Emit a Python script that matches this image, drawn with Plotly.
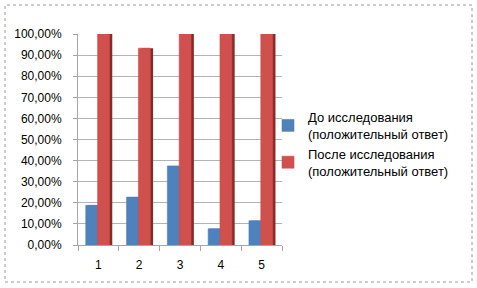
import plotly.graph_objects as go

# Survey results, share of positive answers per question
categories = ["1", "2", "3", "4", "5"]
before_values = [0.188, 0.227, 0.375, 0.077, 0.115]
after_values = [1.0, 0.933, 1.0, 1.0, 1.0]
series_names = [
    "До исследования<br>(положительный ответ)",
    "После исследования<br>(положительный ответ)",
]
y_ticks = [i / 10 for i in range(11)]

W, H = 477, 288
ML, MR, MT, MB = 78, 195, 34, 43

blue, blue_side = "#4F81BD", "#2F5485"
red, red_side = "#D0504D", "#8A2A28"

fig = go.Figure()

# darker side faces drawn behind the fronts for a bit of depth
for vals, col, off in [(before_values, blue_side, -0.26), (after_values, red_side, 0.05)]:
    fig.add_trace(go.Bar(
        x=categories, y=vals, offset=off, width=0.29,
        marker=dict(color=col, line=dict(width=0)),
        showlegend=False, hoverinfo="skip",
    ))

for vals, col, off, name in [
    (before_values, blue, -0.31, series_names[0]),
    (after_values, red, -0.02, series_names[1]),
]:
    fig.add_trace(go.Bar(
        x=categories, y=vals, offset=off, width=0.29, name=name,
        marker=dict(color=col, line=dict(width=0.6, color=col)),
    ))

pw = W - ML - MR
ph = H - MT - MB


def px_x(v):
    return (v - ML) / pw


def px_y(v):
    return (H - MB - v) / ph


fig.update_layout(
    width=W, height=H,
    margin=dict(l=ML, r=MR, t=MT, b=MB),
    barmode="overlay",
    separators=", ",
    paper_bgcolor="white",
    plot_bgcolor="white",
    font=dict(family="Liberation Sans", size=12, color="#000000"),
    showlegend=True,
    legend=dict(
        x=px_x(268), y=px_y(102), xanchor="left", yanchor="top",
        font=dict(size=13), tracegroupgap=8, itemwidth=30,
        bgcolor="rgba(0,0,0,0)",
    ),
    xaxis=dict(
        type="category", showgrid=False, showline=True, linecolor="#A6A6A6",
        ticks="outside", tickson="boundaries", ticklen=5, tickcolor="#A6A6A6",
        tickfont=dict(size=12), range=[-0.5, 4.5], ticklabelstandoff=9,
    ),
    yaxis=dict(
        range=[0, 1], tickvals=y_ticks, tickformat=".2%",
        showgrid=True, gridcolor="#B4B4B4", gridwidth=1,
        showline=True, linecolor="#A6A6A6", ticks="outside", ticklen=4,
        tickcolor="#A6A6A6", tickfont=dict(size=12), zeroline=False,
        ticklabelstandoff=9,
    ),
    shapes=[dict(
        type="rect", xref="paper", yref="paper",
        x0=px_x(5), x1=px_x(472), y0=px_y(282), y1=px_y(5),
        line=dict(color="#9A9A9A", width=1, dash="dot"), layer="below",
    )],
)

fig.write_html("out.html")
